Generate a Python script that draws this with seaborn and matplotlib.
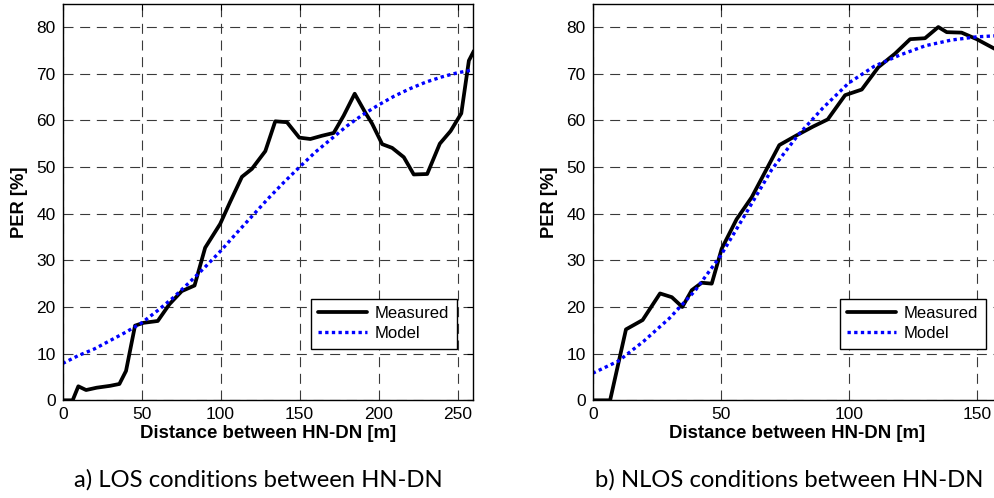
import matplotlib
matplotlib.use("Agg")
import matplotlib.pyplot as plt
import seaborn as sns
import pandas as pd

# LOS measurement campaign: packet error rate vs HN-DN distance
los_dist = [0, 6.3, 9.9, 14.8, 21.5, 30.0, 35.9, 40.1, 45.8, 51.1, 60.2, 67.6,
            75.4, 83.5, 90.2, 99.7, 106.0, 113.5, 119.8, 128.3, 134.6, 142.0,
            149.8, 156.8, 164.2, 171.6, 177.9, 184.9, 191.7, 195.9, 202.3,
            208.6, 216.0, 222.3, 230.8, 238.8, 245.6, 252.4, 257.2, 260.4]
los_per = [0, 0, 3.0, 2.2, 2.7, 3.1, 3.5, 6.3, 16.0, 16.6, 17.0, 20.6,
           23.4, 24.6, 32.7, 37.8, 42.5, 47.9, 49.6, 53.4, 59.8, 59.6,
           56.3, 56.0, 56.7, 57.3, 61.0, 65.7, 61.6, 59.3, 54.9,
           54.1, 52.1, 48.4, 48.5, 55.0, 57.7, 61.5, 72.8, 74.9]

los_model_dist = [0, 10, 20, 30, 40, 50, 60, 70, 80, 90, 100, 110, 120, 130,
                  140, 150, 160, 170, 180, 190, 200, 210, 220, 230, 240, 250, 260]
los_model_per = [7.9, 9.6, 11.0, 12.8, 14.6, 16.6, 19.2, 22.0, 25.2, 28.5, 32.0,
                 35.8, 39.5, 43.2, 46.7, 50.0, 53.2, 56.0, 58.8, 61.2, 63.3,
                 65.2, 66.8, 68.2, 69.3, 70.2, 70.8]

# NLOS measurement campaign
nlos_dist = [0, 6.8, 13.0, 19.5, 26.3, 30.9, 35.0, 38.7, 42.6, 46.5, 50.4, 56.2,
             62.1, 72.9, 79.7, 86.2, 91.8, 98.6, 105.1, 111.6, 118.1, 124.0,
             129.8, 135.0, 138.3, 144.1, 150.0, 156.8, 160.0]
nlos_per = [0, 0, 15.2, 17.2, 22.9, 22.1, 20.0, 23.6, 25.2, 25.0, 32.5, 38.8,
            43.5, 54.7, 56.8, 58.7, 60.2, 65.4, 66.6, 71.4, 74.3, 77.4,
            77.6, 80.0, 78.9, 78.8, 77.4, 75.4, 74.4]

nlos_model_dist = [0, 10, 20, 30, 40, 50, 60, 70, 80, 90, 100, 110, 120, 130,
                   140, 150, 160]
nlos_model_per = [5.8, 8.4, 12.7, 17.6, 23.5, 31.0, 40.2, 49.5, 56.7, 62.7, 68.0,
                  71.6, 74.0, 76.0, 77.2, 77.9, 78.2]

panel_titles = ["a) LOS conditions between HN-DN", "b) NLOS conditions between HN-DN"]
x_ticks = [[0, 50, 100, 150, 200, 250], [0, 50, 100, 150]]
x_limits = [(0, 260), (0, 160)]
y_ticks = [0, 10, 20, 30, 40, 50, 60, 70, 80]

sns.set_theme(style="white")
plt.rcParams["font.family"] = ["Liberation Sans", "DejaVu Sans"]
plt.rcParams["text.color"] = "black"
plt.rcParams["axes.labelcolor"] = "black"

W, H = 994, 498
fig = plt.figure(figsize=(W / 100, H / 100), dpi=100)
ax_los = fig.add_axes([62.7 / W, 97.7 / H, 410.6 / W, 396.6 / H])
ax_nlos = fig.add_axes([592.7 / W, 97.7 / H, 409.6 / W, 396.6 / H])

panels = [
    (ax_los, los_dist, los_per, los_model_dist, los_model_per),
    (ax_nlos, nlos_dist, nlos_per, nlos_model_dist, nlos_model_per),
]

for i, (ax, d, p, md, mp) in enumerate(panels):
    meas = pd.DataFrame({"dist": d, "per": p})
    model = pd.DataFrame({"dist": md, "per": mp})
    sns.lineplot(data=meas, x="dist", y="per", ax=ax, color="black",
                 lw=2.7, label="Measured", sort=False)
    sns.lineplot(data=model, x="dist", y="per", ax=ax, color="#0000FF",
                 lw=2.4, ls=(0, (1.0, 1.0)), label="Model", sort=False)

    ax.set_xlim(*x_limits[i])
    ax.set_ylim(0, 85)
    ax.set_xticks(x_ticks[i])
    ax.set_yticks(y_ticks)
    ax.grid(True, color="#3a3a3a", lw=0.8, ls=(0, (9, 6)))
    ax.tick_params(direction="in", length=4, width=0.8, top=True, right=True,
                   labelsize=12.5, colors="black", pad=5)
    for s in ax.spines.values():
        s.set_color("black")
        s.set_linewidth(1.0)
    ax.set_xlabel("Distance between HN-DN [m]", fontsize=13.4, fontweight="bold",
                  labelpad=2, color="black")
    ax.set_ylabel("PER [%]", fontsize=13.2, fontweight="bold", labelpad=6,
                  color="black")

    leg = ax.legend(loc="lower right", bbox_to_anchor=(0.96, 0.13),
                    borderaxespad=0, fontsize=12, frameon=True, fancybox=False,
                    framealpha=1, edgecolor="black", handlelength=2.9,
                    handletextpad=0.5, labelspacing=0.3, borderpad=0.45)
    leg.get_frame().set_linewidth(1.0)
    for t in leg.get_texts():
        t.set_color("black")

fig.text(258.3 / W, (H - 487) / H, panel_titles[0], ha="center", va="baseline",
         fontsize=17.2, family=["Lato", "DejaVu Sans"], color="black")
fig.text(788.8 / W, (H - 487) / H, panel_titles[1], ha="center", va="baseline",
         fontsize=17.2, family=["Lato", "DejaVu Sans"], color="black")

fig.savefig("out.png", dpi=100)
